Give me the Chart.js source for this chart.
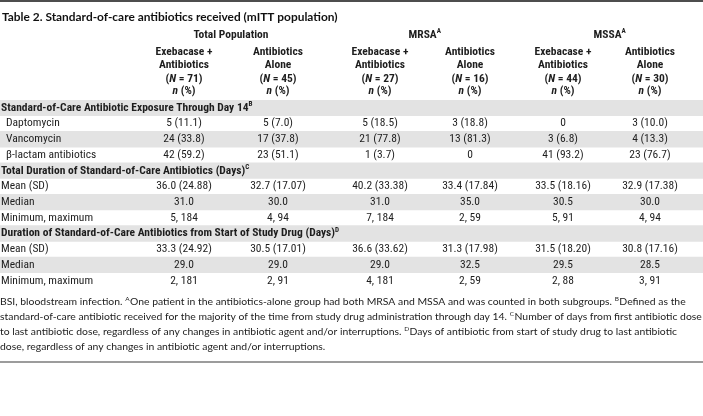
<!DOCTYPE html>
<html><head><meta charset="utf-8">
<script src="https://cdn.jsdelivr.net/npm/chart.js@4.4.0/dist/chart.umd.min.js"></script>
<style>html,body{margin:0;padding:0;background:#fff;overflow:hidden}#wrap{width:703px;height:416px;position:relative}</style>
</head><body><div id="wrap"><canvas id="c" width="703" height="416"></canvas></div>
<script>
// ---------- data ----------
const title = 'Table 2. Standard-of-care antibiotics received (mITT population)';
const groupHeaders = ['Total Population', 'MRSA^A', 'MSSA^A'];
const armHeaders = [['Exebacase +', 'Antibiotics'], ['Antibiotics', 'Alone'], ['Exebacase +', 'Antibiotics'], ['Antibiotics', 'Alone'], ['Exebacase +', 'Antibiotics'], ['Antibiotics', 'Alone']];
const armN = [71, 45, 27, 16, 44, 30];
const rowLabels = [
  'Standard-of-Care Antibiotic Exposure Through Day 14^B',
  'Daptomycin', 'Vancomycin', 'β-lactam antibiotics',
  'Total Duration of Standard-of-Care Antibiotics (Days)^C',
  'Mean (SD)', 'Median', 'Minimum, maximum',
  'Duration of Standard-of-Care Antibiotics from Start of Study Drug (Days)^D',
  'Mean (SD)', 'Median', 'Minimum, maximum'
];
const rowKinds = ['section', 'item', 'item', 'item', 'section', 'stat', 'stat', 'stat', 'section', 'stat', 'stat', 'stat'];
const shadedRows = [1, 0, 1, 0, 1, 0, 1, 0, 1, 0, 1, 0];
const totalExebacase = ['', '5 (11.1)', '24 (33.8)', '42 (59.2)', '', '36.0 (24.88)', '31.0', '5, 184', '', '33.3 (24.92)', '29.0', '2, 181'];
const totalAlone     = ['', '5 (7.0)', '17 (37.8)', '23 (51.1)', '', '32.7 (17.07)', '30.0', '4, 94', '', '30.5 (17.01)', '29.0', '2, 91'];
const mrsaExebacase  = ['', '5 (18.5)', '21 (77.8)', '1 (3.7)', '', '40.2 (33.38)', '31.0', '7, 184', '', '36.6 (33.62)', '29.0', '4, 181'];
const mrsaAlone      = ['', '3 (18.8)', '13 (81.3)', '0', '', '33.4 (17.84)', '35.0', '2, 59', '', '31.3 (17.98)', '32.5', '2, 59'];
const mssaExebacase  = ['', '0', '3 (6.8)', '41 (93.2)', '', '33.5 (18.16)', '30.5', '5, 91', '', '31.5 (18.20)', '29.5', '2, 88'];
const mssaAlone      = ['', '3 (10.0)', '4 (13.3)', '23 (76.7)', '', '32.9 (17.38)', '30.0', '4, 94', '', '30.8 (17.16)', '28.5', '3, 91'];
const footnotes = [
  'BSI, bloodstream infection. ^AOne patient in the antibiotics-alone group had both MRSA and MSSA and was counted in both subgroups. ^BDefined as the',
  'standard-of-care antibiotic received for the majority of the time from study drug administration through day 14. ^CNumber of days from first antibiotic dose',
  'to last antibiotic dose, regardless of any changes in antibiotic agent and/or interruptions. ^DDays of antibiotic from start of study drug to last antibiotic',
  'dose, regardless of any changes in antibiotic agent and/or interruptions.'
];
const columns = [totalExebacase, totalAlone, mrsaExebacase, mrsaAlone, mssaExebacase, mssaAlone];

// ---------- layout / style ----------
const W = 703;
const COL_X = [184, 278, 380, 470, 563, 650];
const GROUP_X = [231, 425, 610];
const BODY = '"Liberation Sans Narrow", "Roboto Condensed", "DejaVu Sans Condensed", Roboto, sans-serif';
const NOTE = 'Lato, "Open Sans", sans-serif';
const INK = '#1e1e1e';

function parseRich(s) {
  const segs = []; let italic = false; let buf = '';
  const push = () => { if (buf) { segs.push({ t: buf, italic, sup: false }); buf = ''; } };
  for (let i = 0; i < s.length; i++) {
    const c = s[i];
    if (c === '*') { push(); italic = !italic; }
    else if (c === '^') { push(); segs.push({ t: s[i + 1], italic, sup: true }); i++; }
    else buf += c;
  }
  push();
  return segs;
}
function fontStr(seg, o) {
  const size = seg.sup ? o.size * 0.62 : o.size;
  return (seg.italic ? 'italic ' : '') + (o.weight || 'normal') + ' ' + size + 'px ' + o.family;
}
function drawRich(ctx, s, x, y, align, o) {
  const segs = parseRich(s);
  let total = 0;
  segs.forEach(seg => { ctx.font = fontStr(seg, o); seg.w = ctx.measureText(seg.t).width + (seg.sup ? 0.5 : 0); total += seg.w; });
  let cx = align === 'center' ? x - total / 2 : (align === 'right' ? x - total : x);
  ctx.fillStyle = o.color || INK;
  ctx.textAlign = 'left';
  ctx.textBaseline = 'middle';
  segs.forEach(seg => {
    ctx.font = fontStr(seg, o);
    ctx.fillText(seg.t, cx, seg.sup ? y - o.size * 0.33 : y);
    cx += seg.w;
  });
}

const tablePlugin = {
  id: 'tableText',
  afterDraw(chart) {
    const ctx = chart.ctx;
    const xs = chart.scales.x, ys = chart.scales.y;
    const px = v => xs.getPixelForValue(v);
    ctx.save();
    // rules
    ctx.fillStyle = '#4d4d4d'; ctx.fillRect(0, 0, W, 2);
    ctx.fillStyle = '#9c9c9c'; ctx.fillRect(0, 361, W, 2);
    // title
    drawRich(ctx, title, 2, 17, 'left', { size: 11.9, weight: 'bold', family: NOTE, color: '#111' });
    // group headers
    groupHeaders.forEach((g, i) => {
      drawRich(ctx, g, px(GROUP_X[i]), 35, 'center', { size: 11.5, weight: 'bold', family: BODY });
    });
    // arm headers
    armHeaders.forEach((h, i) => {
      const cx = px(COL_X[i]);
      drawRich(ctx, h[0], cx, 52, 'center', { size: 11.5, weight: 'bold', family: BODY });
      drawRich(ctx, h[1], cx, 65.5, 'center', { size: 11.5, weight: 'bold', family: BODY });
      drawRich(ctx, '(*N* = ' + armN[i] + ')', cx, 79, 'center', { size: 11.5, weight: 'bold', family: BODY });
      drawRich(ctx, '*n* (%)', cx, 91, 'center', { size: 11.5, weight: 'bold', family: BODY });
    });
    // rows
    rowLabels.forEach((lab, r) => {
      const y = ys.getPixelForValue(r);
      const kind = rowKinds[r];
      if (kind === 'section') {
        drawRich(ctx, lab, 1, y, 'left', { size: 11.5, weight: 'bold', family: BODY });
      } else {
        drawRich(ctx, lab, kind === 'item' ? 6 : 1, y, 'left', { size: 11.5, family: BODY });
      }
      columns.forEach((col, c) => {
        if (col[r]) drawRich(ctx, col[r], px(COL_X[c]), y, 'center', { size: 11.5, family: BODY });
      });
    });
    // footnotes
    footnotes.forEach((f, i) => {
      drawRich(ctx, f, 0, 302 + i * 15, 'left', { size: 10.4, family: NOTE, color: '#222' });
    });
    ctx.restore();
  }
};

new Chart(document.getElementById('c'), {
  type: 'bar',
  data: {
    labels: rowLabels,
    datasets: [{
      data: shadedRows.map(s => s ? [0, W] : null),
      backgroundColor: '#e3e3e3',
      borderWidth: 0,
      barPercentage: 1,
      categoryPercentage: 1
    }]
  },
  options: {
    indexAxis: 'y',
    responsive: false,
    animation: false,
    devicePixelRatio: 1,
    layout: { padding: { top: 100, bottom: 127.5, left: 0, right: 0 } },
    scales: {
      x: { type: 'linear', min: 0, max: W, display: false },
      y: { display: false }
    },
    plugins: { legend: { display: false }, tooltip: { enabled: false }, title: { display: false } }
  },
  plugins: [tablePlugin]
});
</script>
</body></html>
